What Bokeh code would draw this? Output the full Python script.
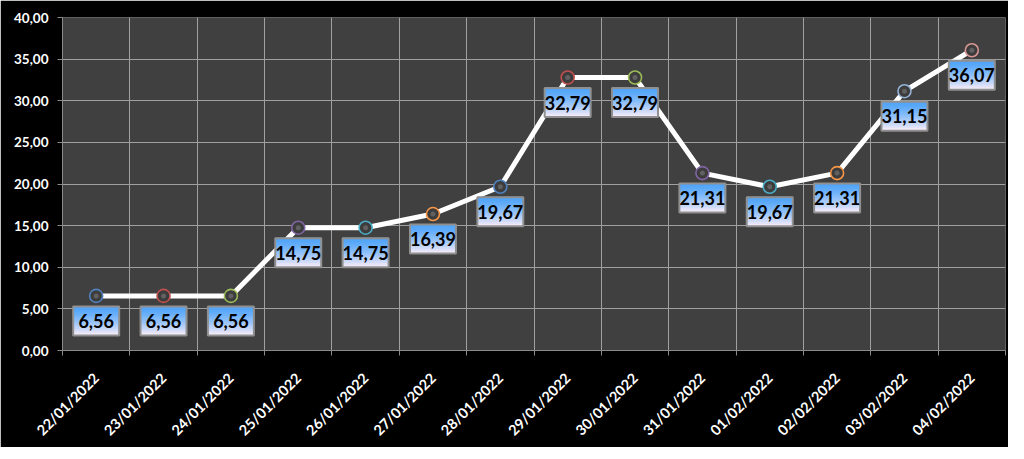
from bokeh.plotting import figure
from bokeh.models import FixedTicker, Range1d
from bokeh.embed import file_html
from bokeh.resources import INLINE
from bokeh.core.properties import value

dates = ["22/01/2022", "23/01/2022", "24/01/2022", "25/01/2022", "26/01/2022",
         "27/01/2022", "28/01/2022", "29/01/2022", "30/01/2022", "31/01/2022",
         "01/02/2022", "02/02/2022", "03/02/2022", "04/02/2022"]
values = [6.56, 6.56, 6.56, 14.75, 14.75, 16.39, 19.67, 32.79, 32.79, 21.31,
          19.67, 21.31, 31.15, 36.07]
marker_colors = ["#4F81BD", "#C0504D", "#9BBB59", "#8064A2", "#4BACC6", "#F79646",
                 "#4F81BD", "#C0504D", "#9BBB59", "#8064A2", "#4BACC6", "#F79646",
                 "#95B3D7", "#D99694"]
y_ticks = [0, 5, 10, 15, 20, 25, 30, 35, 40]

FRAME_W, FRAME_H = 943, 333
Y0, Y1 = 0, 40
ppu = FRAME_H / (Y1 - Y0)

xs = list(range(1, len(dates) + 1))
labels = [f"{v:.2f}".replace(".", ",") for v in values]

p = figure(frame_width=FRAME_W, frame_height=FRAME_H, output_backend="svg",
           toolbar_location=None, min_border_left=62, min_border_right=3,
           min_border_top=17, min_border_bottom=93,
           x_range=Range1d(0.5, len(dates) + 0.5), y_range=Range1d(Y0, Y1))
p.background_fill_color = "#404040"
p.border_fill_color = "black"
p.outline_line_color = None

# axes
p.xaxis.ticker = FixedTicker(ticks=xs, minor_ticks=[x - 0.5 for x in xs] + [len(xs) + 0.5])
p.xaxis.major_label_overrides = {x: d for x, d in zip(xs, dates)}
p.xaxis.major_label_orientation = 0.785398
p.xaxis.major_tick_out = 0
p.xaxis.major_tick_in = 0
p.xaxis.minor_tick_out = 5
p.xaxis.minor_tick_in = 0
p.xaxis.minor_tick_line_color = "#8a8a8a"
p.xaxis.axis_line_color = "#8a8a8a"
p.xaxis.major_label_standoff = 20
p.yaxis.ticker = FixedTicker(ticks=y_ticks)
p.yaxis.major_label_overrides = {t: f"{t:.2f}".replace(".", ",") for t in y_ticks}
p.yaxis.major_tick_out = 5
p.yaxis.major_tick_in = 0
p.yaxis.minor_tick_line_color = None
p.yaxis.major_tick_line_color = "#8a8a8a"
p.yaxis.axis_line_color = "#8a8a8a"
p.yaxis.major_label_standoff = 9
for ax in (p.xaxis, p.yaxis):
    ax.major_label_text_color = "white"
    ax.major_label_text_font = "Lato"
    ax.major_label_text_font_style = "bold"
    ax.major_label_text_font_size = "14.5px"
p.yaxis.major_label_text_font_size = "13.5px"

p.xgrid.ticker = FixedTicker(ticks=[x + 0.5 for x in xs[:-1]])
p.xgrid.grid_line_color = "#a0a0a0"
p.ygrid.grid_line_color = "#a0a0a0"
p.xgrid.grid_line_width = 1
p.ygrid.grid_line_width = 1

# line and markers
p.line(xs, values, line_color="white", line_width=5)
p.scatter(xs, values, size=13, fill_color="#3c3c3c", line_color=marker_colors, line_width=1.6)
p.scatter(xs, values, size=5, fill_color="#6a6a6a", line_color=None, fill_alpha=0.8)

# label boxes with gradient
BOX_W, BOX_H, OFF = 46, 29, 25
N = 15
c_top = (80, 165, 250)
c_bot = (242, 234, 248)
for k in range(N):
    t = (k / (N - 1)) ** 1.4
    col = "#%02x%02x%02x" % tuple(int(a + (b - a) * t) for a, b in zip(c_top, c_bot))
    px = OFF - BOX_H / 2 + (k + 0.5) * BOX_H / N
    p.rect(xs, [v - px / ppu for v in values], width=BOX_W, height=BOX_H / N + 0.8,
           width_units="screen", height_units="screen", fill_color=col, line_color=None)
p.rect(xs, [v - OFF / ppu for v in values], width=BOX_W, height=BOX_H,
       width_units="screen", height_units="screen", fill_color=None,
       line_color="#909090", line_width=2)
p.text(xs, [v - OFF / ppu for v in values], text=labels, text_align="center",
       text_baseline="middle", text_font=value("Lato"), text_font_style="bold",
       text_font_size="18px", text_color="#000000")

open("out.html", "w").write(file_html(p, INLINE))
